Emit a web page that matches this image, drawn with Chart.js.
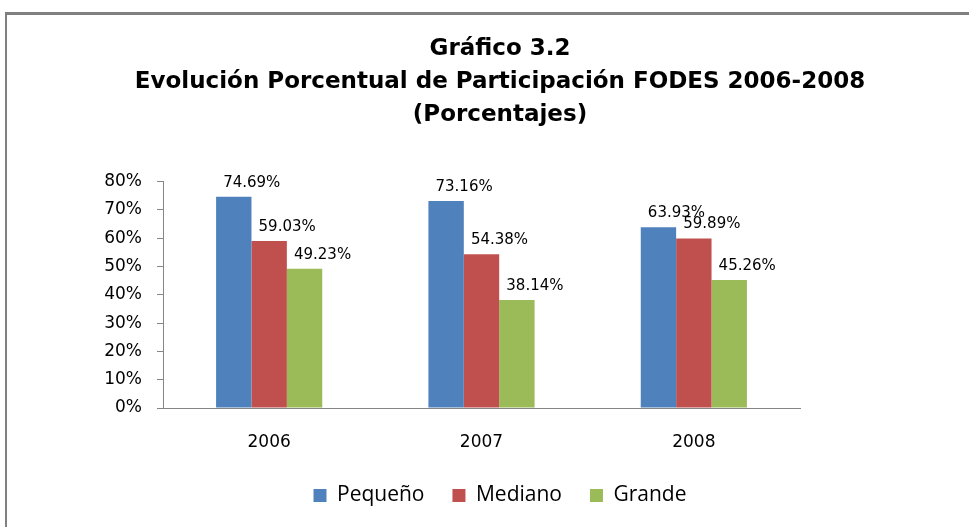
<!DOCTYPE html>
<html>
<head>
<meta charset="utf-8">
<script src="https://cdn.jsdelivr.net/npm/chart.js@4.4.1/dist/chart.umd.min.js"></script>
<style>
  html, body { margin: 0; padding: 0; background: #fff; overflow: hidden; }
  #marco { position: absolute; left: 5px; top: 12px; width: 980px; height: 530px;
           border-top: 3px solid #808080; border-left: 2px solid #808080; }
  #grafico { position: absolute; left: 0; top: 0; }
</style>
</head>
<body>
<div id="marco"></div>
<canvas id="grafico" width="1000" height="527"></canvas>
<script>
// datos
var anios = ["2006", "2007", "2008"];
var pequeno = [74.69, 73.16, 63.93];
var mediano = [59.03, 54.38, 59.89];
var grande = [49.23, 38.14, 45.26];
var yTicks = [0, 10, 20, 30, 40, 50, 60, 70, 80];

// etiquetas encima de cada barra
var etiquetas = {
  id: 'etiquetas',
  afterDatasetsDraw: function (chart) {
    var ctx = chart.ctx;
    ctx.save();
    ctx.font = '15px "DejaVu Sans"';
    ctx.fillStyle = '#000';
    ctx.textAlign = 'center';
    ctx.textBaseline = 'middle';
    chart.data.datasets.forEach(function (ds, i) {
      chart.getDatasetMeta(i).data.forEach(function (bar, j) {
        ctx.fillText(ds.data[j].toFixed(2) + '%', bar.x + 18, bar.y - 14);
      });
    });
    ctx.restore();
  }
};

var ctx = document.getElementById('grafico').getContext('2d');
var grafico = new Chart(ctx, {
  type: 'bar',
  data: {
    labels: anios,
    datasets: [{
      label: 'Pequeño',
      data: pequeno,
      backgroundColor: '#4F81BD'
    }, {
      label: 'Mediano',
      data: mediano,
      backgroundColor: '#C0504D'
    }, {
      label: 'Grande',
      data: grande,
      backgroundColor: '#9BBB59'
    }]
  },
  options: {
    responsive: false,
    animation: false,
    devicePixelRatio: 1,
    layout: { padding: { left: 0, right: 0, top: 0, bottom: 11 } },
    datasets: { bar: { categoryPercentage: 0.5, barPercentage: 1 } },
    scales: {
      x: {
        grid: { display: false, drawTicks: false },
        border: { display: true, color: '#868686', width: 1 },
        ticks: { color: '#000', padding: 24, font: { family: 'DejaVu Sans', size: 17 } },
        afterFit: function (s) { s.height = 49; }
      },
      y: {
        min: 0,
        max: 80,
        afterBuildTicks: function (s) { s.ticks = yTicks.map(function (v) { return { value: v }; }); },
        grid: { drawOnChartArea: false, drawTicks: true, tickLength: 6, color: '#868686' },
        border: { display: true, color: '#868686', width: 1 },
        ticks: {
          color: '#000', padding: 15,
          font: { family: 'DejaVu Sans', size: 17 },
          callback: function (v) { return v + '%'; }
        },
        afterFit: function (s) { s.width = 163; }
      },
      derecha: {
        type: 'linear',
        position: 'right',
        display: true,
        grid: { display: false },
        border: { display: false },
        ticks: { display: false },
        afterFit: function (s) { s.width = 200; }
      }
    },
    plugins: {
      title: {
        display: true,
        text: ['Gráfico 3.2', 'Evolución Porcentual de Participación FODES 2006-2008', '(Porcentajes)'],
        color: '#000',
        font: { family: 'DejaVu Sans', size: 23, weight: 'bold', lineHeight: 1.43 },
        padding: { top: 33, bottom: 50 }
      },
      legend: {
        position: 'bottom',
        labels: {
          color: '#000',
          boxWidth: 13,
          boxHeight: 13,
          padding: 28,
          font: { family: 'Open Sans', size: 21 }
        }
      },
      tooltip: { enabled: false }
    }
  },
  plugins: [etiquetas]
});
</script>
</body>
</html>
